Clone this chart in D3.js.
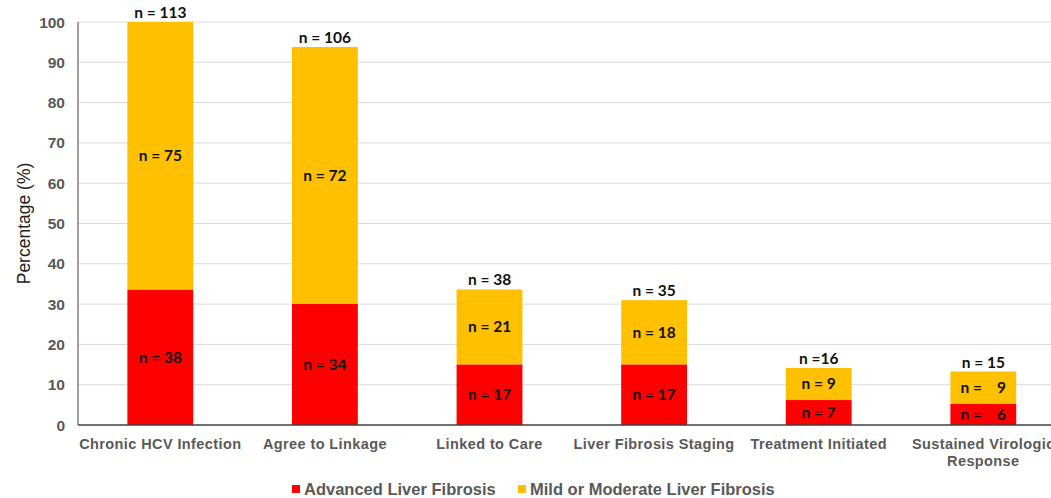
<!DOCTYPE html>
<html><head><meta charset="utf-8">
<script src="https://cdn.jsdelivr.net/npm/d3@7"></script>
<style>
body{margin:0;background:#fff;overflow:hidden}
svg{display:block}
</style></head>
<body><svg id="c" width="1051" height="498"></svg>
<script>
const categories = ["Chronic HCV Infection","Agree to Linkage","Linked to Care","Liver Fibrosis Staging","Treatment Initiated","Sustained Virologic|Response"];
const advancedN = [38,34,17,17,7,6];
const mildN = [75,72,21,18,9,9];
const totalN = [113,106,38,35,16,15];
const advancedLabels = ["n = 38","n = 34","n = 17","n = 17","n = 7","n =\u00a0\u00a0\u00a0\u00a06"];
const mildLabels = ["n = 75","n = 72","n = 21","n = 18","n = 9","n =\u00a0\u00a0\u00a0\u00a09"];
const totalLabels = ["n = 113","n = 106","n = 38","n = 35","n =16","n = 15"];
const baseN = 113;
const yTicks = [0,10,20,30,40,50,60,70,80,90,100];
const seriesNames = ["Advanced Liver Fibrosis","Mild or Moderate Liver Fibrosis"];
const colors = ["#ff0000","#ffc000"];

(function(){
const svg = d3.select("#c");
const pL = 78, pT = 22, pB = 425, pR = 78 + 6*164.6;
const x = d3.scaleBand().domain(categories).range([pL,pR]).paddingInner(0.6).paddingOuter(0.3);
const y = d3.scaleLinear().domain([0,100]).range([pB,pT]);

// gridlines
svg.append("g").selectAll("line").data(yTicks.filter(d=>d>0)).join("line")
  .attr("x1",pL).attr("x2",1051).attr("y1",d=>y(d)).attr("y2",d=>y(d))
  .attr("stroke","#d9d9d9").attr("stroke-width",1);

const data = categories.map((c,i)=>({c, a: advancedN[i]/baseN*100, m: mildN[i]/baseN*100, i}));

const g = svg.append("g");
g.selectAll("rect.a").data(data).join("rect").attr("class","a")
  .attr("x",d=>x(d.c)).attr("width",x.bandwidth())
  .attr("y",d=>y(d.a)).attr("height",d=>y(0)-y(d.a)).attr("fill",colors[0]);
g.selectAll("rect.m").data(data).join("rect").attr("class","m")
  .attr("x",d=>x(d.c)).attr("width",x.bandwidth())
  .attr("y",d=>y(d.a+d.m)).attr("height",d=>y(d.a)-y(d.a+d.m)).attr("fill",colors[1]);

const lblFont = "Lato, 'Open Sans', sans-serif";
function lbl(sel){ sel.attr("text-anchor","middle").attr("font-family",lblFont).attr("font-weight","bold")
  .attr("font-size","15.5px").attr("fill","#111"); }
g.selectAll("text.la").data(data).join("text").attr("class","la").call(lbl)
  .attr("x",d=>x(d.c)+x.bandwidth()/2).attr("y",d=>(y(0)+y(d.a))/2+5.5).text(d=>advancedLabels[d.i]);
g.selectAll("text.lm").data(data).join("text").attr("class","lm").call(lbl)
  .attr("x",d=>x(d.c)+x.bandwidth()/2).attr("y",d=>(y(d.a)+y(d.a+d.m))/2+5.5).text(d=>mildLabels[d.i]);
g.selectAll("text.lt").data(data).join("text").attr("class","lt").call(lbl)
  .attr("x",d=>x(d.c)+x.bandwidth()/2).attr("y",d=>y(d.a+d.m)-4).text(d=>totalLabels[d.i]);

// axes
svg.append("line").attr("x1",pL).attr("x2",pL).attr("y1",pT).attr("y2",pB).attr("stroke","#808080").attr("stroke-width",1.5);
svg.append("line").attr("x1",pL).attr("x2",1051).attr("y1",pB).attr("y2",pB).attr("stroke","#404040").attr("stroke-width",1.5);

const axFont = "'Liberation Sans', Arial, sans-serif";
svg.append("g").selectAll("text").data(yTicks).join("text")
  .attr("x",65).attr("y",d=>y(d)+5.5).attr("text-anchor","end")
  .attr("font-family",axFont).attr("font-weight","bold").attr("font-size","15.5px").attr("fill","#595959")
  .text(d=>d);

const xl = svg.append("g").selectAll("text").data(categories).join("text")
  .attr("x",d=>x(d)+x.bandwidth()/2).attr("y",449).attr("text-anchor","middle")
  .attr("font-family",axFont).attr("font-weight","bold").attr("font-size","14.5px").attr("fill","#595959")
  .attr("letter-spacing","0.4px");
xl.selectAll("tspan").data(d=>d.split("|").map(s=>({s,c:d}))).join("tspan")
  .attr("x",d=>x(d.c)+x.bandwidth()/2).attr("dy",(d,i)=>i?17:0).text(d=>d.s);

svg.append("text").attr("transform","translate(30,"+((pT+pB)/2)+") rotate(-90)")
  .attr("text-anchor","middle").attr("font-family",axFont).attr("font-size","17.5px").attr("fill","#222")
  .text("Percentage (%)");

// legend
const leg = svg.append("g");
const legX = [292,518];
seriesNames.forEach((n,i)=>{
  leg.append("rect").attr("x",legX[i]).attr("y",485).attr("width",8).attr("height",8).attr("fill",colors[i]);
  leg.append("text").attr("x",legX[i]+12).attr("y",495).attr("font-family",axFont).attr("font-weight","bold")
    .attr("font-size","16.5px").attr("fill","#595959").text(n);
});
})();
</script></body></html>
